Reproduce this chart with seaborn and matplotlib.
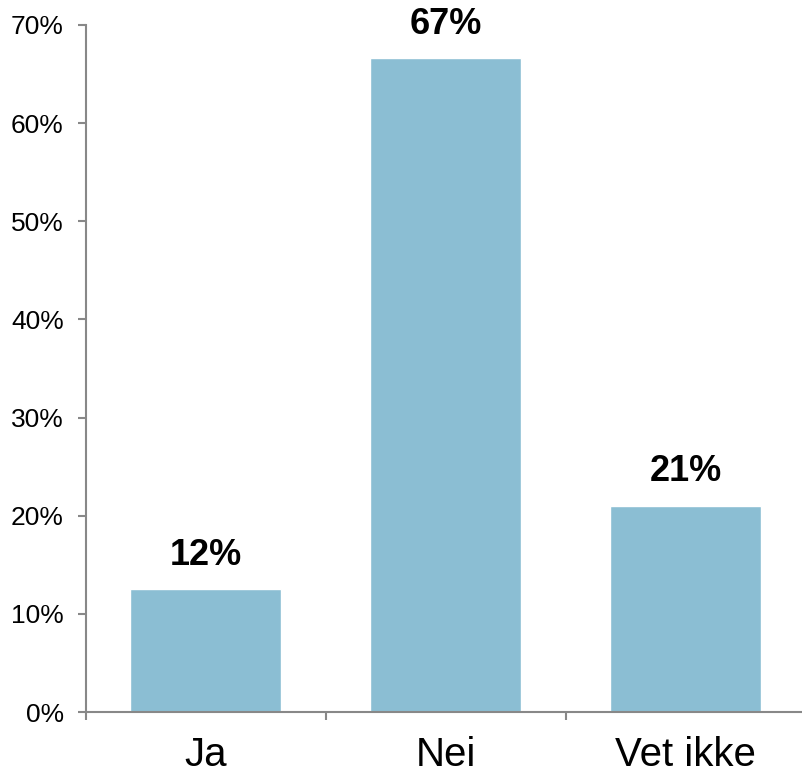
import matplotlib
matplotlib.use("Agg")
import matplotlib.pyplot as plt
import seaborn as sns
import pandas as pd
from matplotlib.ticker import FixedLocator, PercentFormatter

categories = ["Ja", "Nei", "Vet ikke"]
values = [12.5, 66.6, 21.0]
labels = ["12%", "67%", "21%"]

sns.set_style("white")
plt.rcParams['font.family'] = ['Liberation Sans', 'DejaVu Sans']

df = pd.DataFrame({"cat": categories, "val": values})
fig = plt.figure(figsize=(8.03, 7.72), dpi=100)
ax = fig.add_axes([0.107, 0.0777, 0.896, 0.89])
sns.barplot(data=df, x="cat", y="val", color="#8BBED3", width=0.63, saturation=1, ax=ax)

ax.set_ylim(0, 70)
ax.set_xlim(-0.5, 2.49)
ax.yaxis.set_major_locator(FixedLocator(range(0, 71, 10)))
ax.yaxis.set_major_formatter(PercentFormatter(decimals=0))
ax.set_xlabel("")
ax.set_ylabel("")

ax.set_xticks([-0.5, 0.5, 1.5, 2.5])
ax.set_xticklabels([])
ax.set_xticks([0, 1, 2], minor=True)
ax.set_xticklabels(categories, minor=True, fontsize=29, color="black")
ax.tick_params(axis="x", which="major", bottom=True, direction="out", length=6, width=1.5, color="#888888")
ax.tick_params(axis="x", which="minor", bottom=True, length=0, pad=17)
ax.tick_params(axis="y", left=True, direction="out", length=6, width=1.5, color="#888888",
               labelsize=19, labelcolor="black", pad=10)

for s in ["top", "right"]:
    ax.spines[s].set_visible(False)
for s in ["left", "bottom"]:
    ax.spines[s].set_color("#888888")
    ax.spines[s].set_linewidth(1.5)

for i, (v, t) in enumerate(zip(values, labels)):
    ax.text(i, v + 1.7, t, ha="center", va="bottom", fontsize=26, fontweight="bold", color="black")

fig.savefig("out.png", dpi=100)
